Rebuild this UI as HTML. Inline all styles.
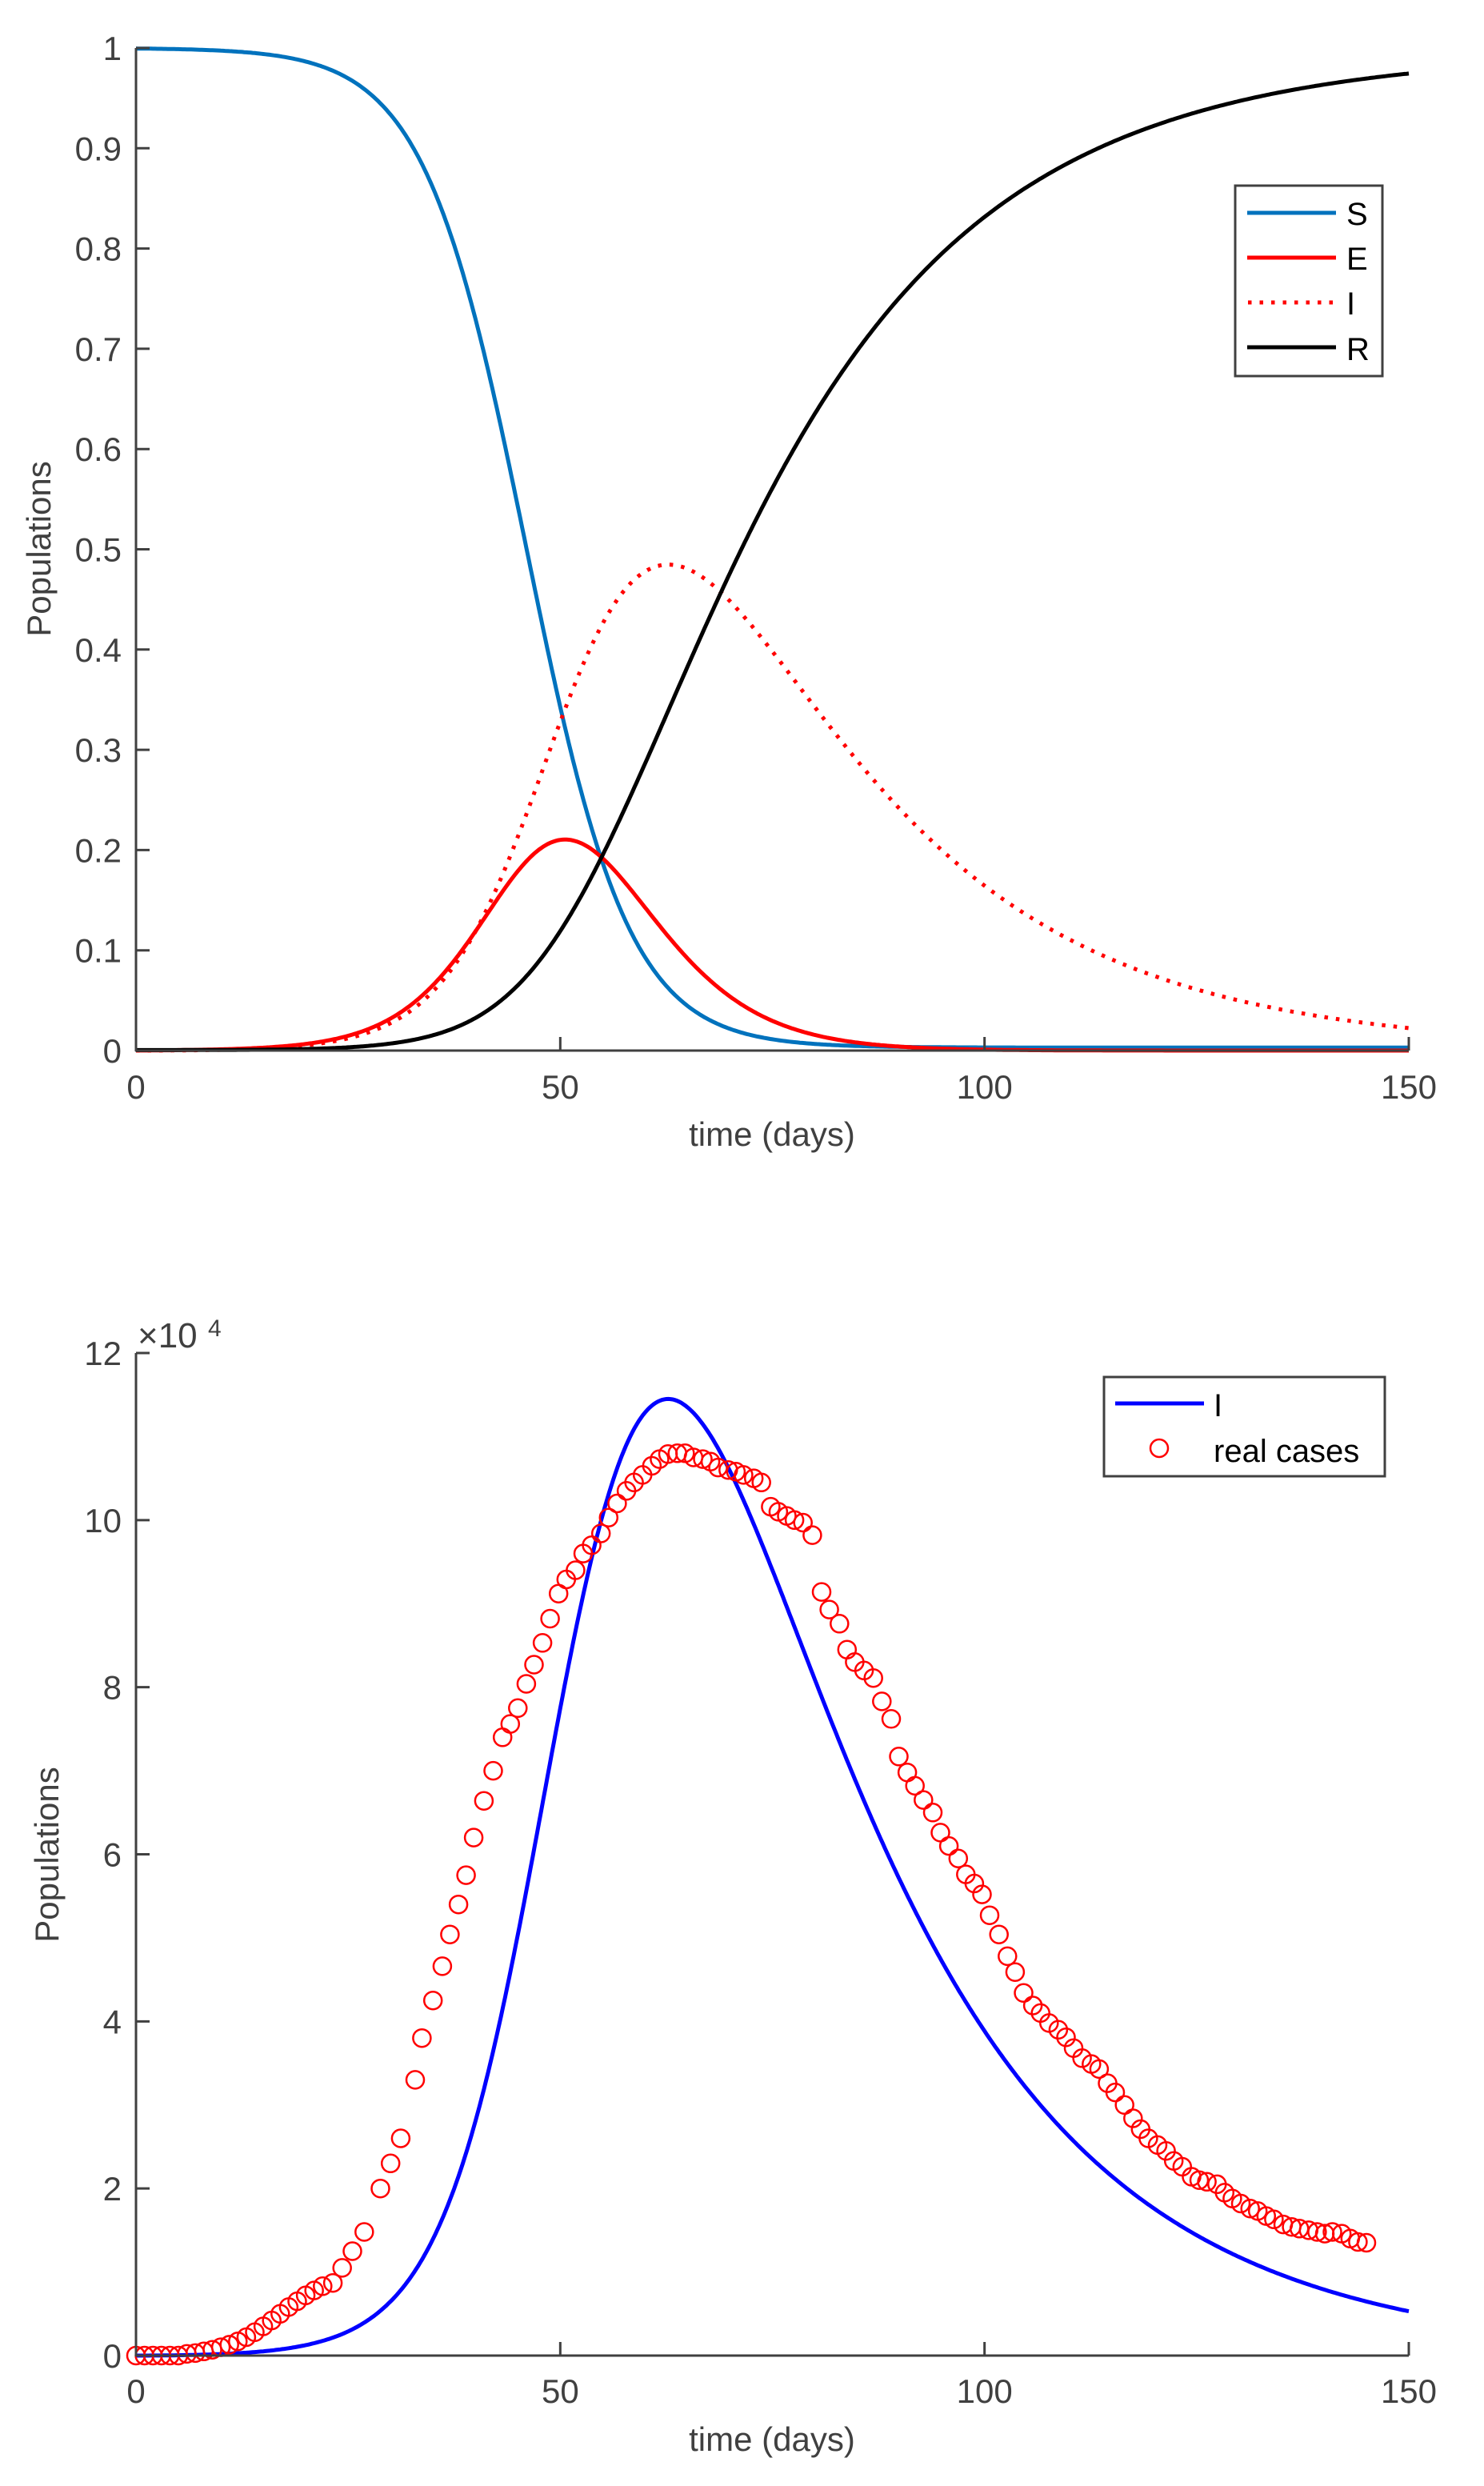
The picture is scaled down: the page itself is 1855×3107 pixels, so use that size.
<!DOCTYPE html>
<html><head><meta charset="utf-8"><style>
html,body{margin:0;padding:0;background:#fff;}
svg{display:block;}
text{font-family:"Liberation Sans",Arial,sans-serif;}
</style></head><body>
<svg id="s" width="1855" height="3107" viewBox="0 0 1855 3107" xmlns="http://www.w3.org/2000/svg">
<rect width="1855" height="3107" fill="#fff"/>
<g id="g1"></g>
<g id="g2"></g>
<g stroke="#404040" stroke-width="3" fill="none">
<line x1="170" y1="60" x2="170" y2="1314"/>
<line x1="169" y1="1313" x2="1761" y2="1313"/>
<line x1="170" y1="1691" x2="170" y2="2945"/>
<line x1="169" y1="2944" x2="1761" y2="2944"/>
</g>
<g id="ticks"></g>
<text x="52" y="686" font-size="42" fill="#404040" text-anchor="middle" transform="rotate(-90 52 686)" dominant-baseline="middle">Populations</text>
<text x="965" y="1432" font-size="42" fill="#404040" text-anchor="middle">time (days)</text>
<text x="62" y="2318" font-size="42" fill="#404040" text-anchor="middle" transform="rotate(-90 62 2318)" dominant-baseline="middle">Populations</text>
<text x="965" y="3063" font-size="42" fill="#404040" text-anchor="middle">time (days)</text>
<text x="172" y="1684" font-size="44" fill="#404040">×10</text>
<text x="260" y="1670" font-size="30" fill="#404040">4</text>
<rect x="1544" y="232" width="184" height="238" fill="#fff" stroke="#404040" stroke-width="3"/>
<line x1="1559" y1="266" x2="1670" y2="266" stroke="#0072bd" stroke-width="5"/>
<line x1="1559" y1="322" x2="1670" y2="322" stroke="#ff0000" stroke-width="5"/>
<line x1="1560" y1="378" x2="1670" y2="378" stroke="#ff0000" stroke-width="5" stroke-dasharray="4.5 10"/>
<line x1="1559" y1="434" x2="1670" y2="434" stroke="#000" stroke-width="5"/>
<g font-size="40" fill="#000">
<text x="1683" y="281">S</text>
<text x="1683" y="337">E</text>
<text x="1683" y="393">I</text>
<text x="1683" y="450">R</text>
</g>
<rect x="1380" y="1721" width="351" height="124" fill="#fff" stroke="#404040" stroke-width="3"/>
<line x1="1394" y1="1754" x2="1505" y2="1754" stroke="#0000ff" stroke-width="5"/>
<circle cx="1449" cy="1810" r="11" fill="none" stroke="#ff0000" stroke-width="2.5"/>
<g font-size="40" fill="#000">
<text x="1517" y="1770">I</text>
<text x="1517" y="1827">real cases</text>
</g>
</svg>
<script>
(function(){
var NS="http://www.w3.org/2000/svg";
function el(p,n,a){var e=document.createElementNS(NS,n);for(var k in a)e.setAttribute(k,a[k]);p.appendChild(e);return e;}
var X0=170,XS=(1761-170)/150;
function xp(t){return X0+t*XS;}
function y1(v){return 1313-v*1253;}
function y2(v){return 2944-v*(2944-1691)/12;}
var k=0.165,tc=46,fl=0.003,sig=0.17,gam=0.04;
function Sf(t){return fl+(1-fl)/(1+Math.exp(k*(t-tc)));}
var dt=0.01,E=0,I=0,R=0,pts=[];
var S0=Sf(0);
for(var n=0;n<=15000;n++){
 var t=n*dt;
 if(n%25==0)pts.push([t,Sf(t),E,I,R]);
 var dS=Sf(t+dt)-Sf(t);
 var inflow=-dS;
 var e2=E+inflow-sig*E*dt;
 var i2=I+sig*E*dt-gam*I*dt;
 R=R+gam*I*dt;E=e2;I=i2;
}
var imax=0;pts.forEach(function(p){p[4]+= (1-S0);if(p[3]>imax)imax=p[3];});
function path(idx,yf,sc){return pts.map(function(p,j){return (j?"L":"M")+xp(p[0]).toFixed(1)+" "+yf(p[idx]*sc).toFixed(1);}).join("");}
var g1=document.getElementById("g1");
el(g1,"path",{d:path(1,y1,1),fill:"none",stroke:"#0072bd","stroke-width":5});
el(g1,"path",{d:path(2,y1,1),fill:"none",stroke:"#ff0000","stroke-width":5});
el(g1,"path",{d:path(3,y1,1),fill:"none",stroke:"#ff0000","stroke-width":5,"stroke-dasharray":"4.5 10"});
el(g1,"path",{d:path(4,y1,1),fill:"none",stroke:"#000","stroke-width":5});
var g2=document.getElementById("g2");
el(g2,"path",{d:path(3,y2,11.45/imax),fill:"none",stroke:"#0000ff","stroke-width":5});
var early=[0,0,0,0,0,0,0.02,0.03,0.05,0.07,0.1,0.13,0.17,0.22,0.28,0.35,0.42,0.5,0.58,0.65,0.72,0.78,0.83];
var data=[];early.forEach(function(v,i){data.push([i,v]);});
var L=[[23.2,0.87],[24.3,1.05],[25.5,1.25],[26.9,1.48],[28.8,2.0],[30,2.3],[31.2,2.6],[32.9,3.3],[33.7,3.8],[35,4.25],[36.1,4.66],[37,5.04],[38,5.4],[38.9,5.75],[39.8,6.2],[41,6.64],[42.1,7.0],[43.2,7.4],[44.1,7.56],[45,7.75],[46,8.04],[46.9,8.27],[47.9,8.53],[48.8,8.82],[49.8,9.12],[50.7,9.29],[51.8,9.4],[52.7,9.6],[53.7,9.7],[54.8,9.84],[55.7,10.03],[56.7,10.2],[57.8,10.35],[58.7,10.45],[59.7,10.54],[60.8,10.65],[61.7,10.73],[62.7,10.79],[63.8,10.8],[64.7,10.8],[65.7,10.75],[66.8,10.73],[67.7,10.7],[68.6,10.63],[69.8,10.6],[70.7,10.58],[71.6,10.54],[72.8,10.5],[73.7,10.45],[74.8,10.16],[75.7,10.1],[76.7,10.05],[77.6,10.0],[78.6,9.97],[79.7,9.82],[80.8,9.14],[81.7,8.93],[82.9,8.76],[83.8,8.45],[84.7,8.3],[85.8,8.2],[86.9,8.11],[87.9,7.83],[89,7.62],[89.9,7.17],[90.9,6.98],[91.8,6.82],[92.8,6.65],[93.9,6.5],[94.8,6.26],[95.8,6.1],[96.9,5.95],[97.8,5.76],[98.8,5.65],[99.7,5.52],[100.6,5.27],[101.7,5.04],[102.7,4.78],[103.6,4.59],[104.6,4.34],[105.7,4.19],[106.6,4.1],[107.6,3.98],[108.7,3.9],[109.6,3.81],[110.5,3.68],[111.5,3.56],[112.6,3.49],[113.5,3.43],[114.5,3.26],[115.4,3.15],[116.5,3.0],[117.5,2.84],[118.4,2.71],[119.3,2.6],[120.4,2.52],[121.4,2.45],[122.3,2.33],[123.3,2.26],[124.4,2.14],[125.3,2.1],[126.2,2.08],[127.4,2.05],[128.3,1.95],[129.2,1.88],[130.2,1.82],[131.3,1.76],[132.2,1.73],[133.2,1.67],[134.1,1.63],[135.2,1.57],[136.2,1.54],[137.1,1.52],[138.2,1.5],[139.2,1.48],[140.1,1.46],[141,1.48],[142.1,1.46],[143.1,1.4],[144,1.36],[145,1.35]];
data=data.concat(L);
data.forEach(function(p){el(g2,"circle",{cx:xp(p[0]).toFixed(1),cy:y2(p[1]).toFixed(1),r:11,fill:"none",stroke:"#ff0000","stroke-width":2.5});});
var tg=document.getElementById("ticks");
for(var i=0;i<=10;i++){var y=y1(i/10);el(tg,"line",{x1:170,y1:y,x2:187,y2:y,stroke:"#404040","stroke-width":3});
 var tx=el(tg,"text",{x:152,y:y+15,"font-size":42,fill:"#404040","text-anchor":"end"});tx.textContent=(i==10?"1":(i==0?"0":"0."+i));}
for(var i=0;i<=12;i+=2){var y=y2(i);el(tg,"line",{x1:170,y1:y,x2:187,y2:y,stroke:"#404040","stroke-width":3});
 var tx=el(tg,"text",{x:152,y:y+15,"font-size":42,fill:"#404040","text-anchor":"end"});tx.textContent=""+i;}
[0,50,100,150].forEach(function(v){var x=xp(v);
 el(tg,"line",{x1:x,y1:1313,x2:x,y2:1296,stroke:"#404040","stroke-width":3});
 el(tg,"line",{x1:x,y1:2944,x2:x,y2:2927,stroke:"#404040","stroke-width":3});
 var a=el(tg,"text",{x:x,y:1373,"font-size":42,fill:"#404040","text-anchor":"middle"});a.textContent=v;
 var b=el(tg,"text",{x:x,y:3003,"font-size":42,fill:"#404040","text-anchor":"middle"});b.textContent=v;});
})();
</script>
</body></html>
